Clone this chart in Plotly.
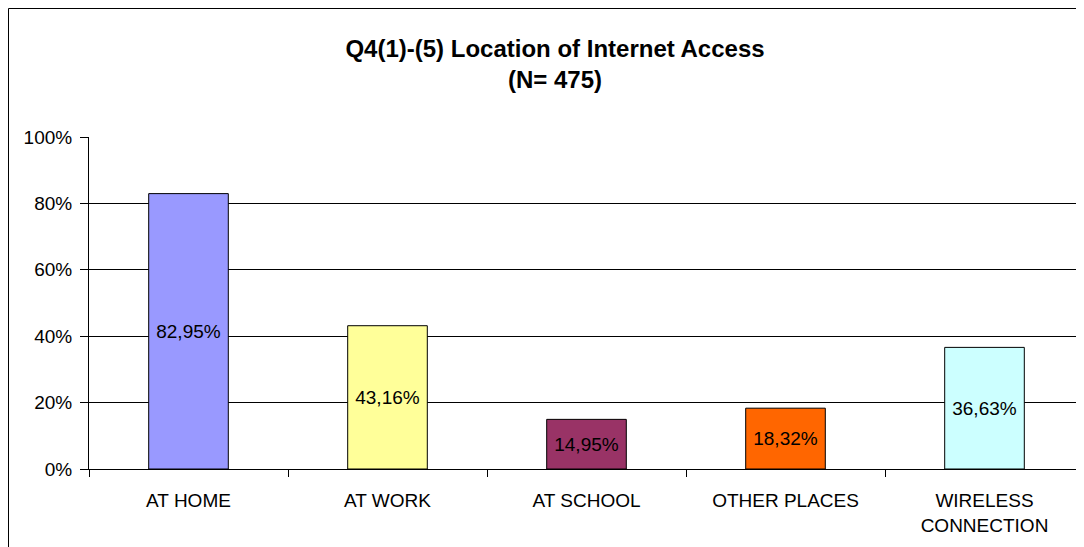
import plotly.graph_objects as go

categories = ["AT HOME", "AT WORK", "AT SCHOOL", "OTHER PLACES", "WIRELESS<br>CONNECTION"]
values = [82.95, 43.16, 14.95, 18.32, 36.63]
colors = ["#9999FF", "#FFFF99", "#993366", "#FF6600", "#CCFFFF"]
y_ticks = [0, 20, 40, 60, 80, 100]
y_tick_labels = ["0%", "20%", "40%", "60%", "80%", "100%"]

labels = [f"{v:.2f}".replace(".", ",") + "%" for v in values]

FONT = "Liberation Sans, Arial, sans-serif"

fig = go.Figure(go.Bar(
    x=categories, y=values, text=labels,
    textposition="inside", insidetextanchor="middle",
    textfont=dict(family=FONT, size=19, color="black"),
    marker=dict(color=colors, line=dict(color="black", width=1)),
    cliponaxis=False,
))

W, H = 1084, 547
L, R, T, B = 81, 8, 129, 86
pw, ph = W - L - R, H - T - B

fig.update_layout(
    width=W, height=H,
    margin=dict(l=L, r=R, t=T, b=B),
    paper_bgcolor="white", plot_bgcolor="white",
    bargap=0.6,
    showlegend=False,
    title=dict(
        text="<b>Q4(1)-(5) Location of Internet Access<br>(N= 475)</b>",
        x=547 / W, xref="container", xanchor="center",
        y=1 - 49 / H, yref="container", yanchor="middle",
        font=dict(family=FONT, size=24, color="black"),
    ),
    font=dict(family=FONT, color="black"),
)

fig.update_xaxes(
    showline=True, linecolor="black", linewidth=1,
    ticks="outside", tickson="boundaries", ticklen=7, tickcolor="black",
    ticklabelstandoff=14,
    tickfont=dict(family=FONT, size=19, color="black"),
    showgrid=False,
)
fig.update_yaxes(
    range=[0, 100], tickvals=y_ticks, ticktext=y_tick_labels,
    showline=True, linecolor="black", linewidth=1,
    ticks="outside", ticklen=8, tickcolor="black",
    ticklabelstandoff=4,
    tickfont=dict(family=FONT, size=19, color="black"),
    showgrid=True, gridcolor="black", gridwidth=1,
    zeroline=False,
)

# outer chart border
fig.add_shape(
    type="rect", xref="paper", yref="paper",
    x0=(0.5 - L) / pw, x1=(W + 20 - L) / pw,
    y0=-(B + 20) / ph, y1=1 + (T - 0.5) / ph,
    line=dict(color="black", width=1), fillcolor="rgba(0,0,0,0)",
    layer="below",
)

fig.write_html("out.html")
